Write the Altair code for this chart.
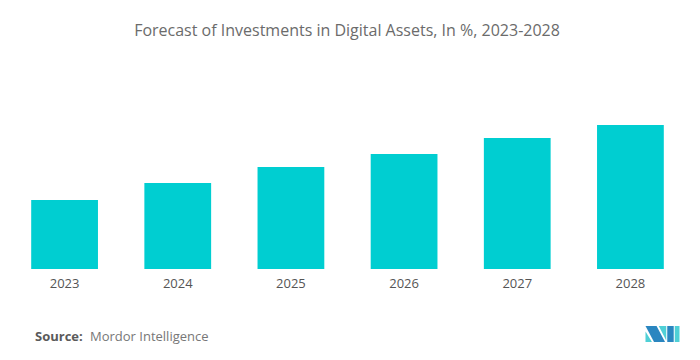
import altair as alt
import pandas as pd

years = ["2023", "2024", "2025", "2026", "2027", "2028"]
values = [69, 86, 102, 115, 131, 144]

title_text = "Forecast of Investments in Digital Assets, In %, 2023-2028"
source_label = "Source:"
source_name = "Mordor Intelligence"

df = pd.DataFrame({"year": years, "value": values})
one = pd.DataFrame({"k": [0]})

W, H = 679, 209
FONT = "Open Sans"

bars = alt.Chart(df).mark_bar(color="#00CED1").encode(
    x=alt.X("year:N", sort=years,
            scale=alt.Scale(paddingInner=0.41, paddingOuter=0.205),
            axis=alt.Axis(title=None, labelAngle=0, ticks=False, domain=False,
                          labelPadding=8, labelFontSize=13, labelColor="#555555",
                          labelFont=FONT, grid=False)),
    y=alt.Y("value:Q", scale=alt.Scale(domain=[0, H], nice=False),
            axis=None),
)

title = alt.Chart(one).mark_text(text=title_text, font=FONT, fontSize=16,
                                 color="#6b6b6b", align="center", baseline="middle").encode(
    x=alt.value(339), y=alt.value(-29))

src1 = alt.Chart(one).mark_text(text=source_label, font=FONT, fontSize=13, fontWeight="bold",
                                color="#5a5a5a", align="left", baseline="middle").encode(
    x=alt.value(27), y=alt.value(277))
src2 = alt.Chart(one).mark_text(text=source_name, font=FONT, fontSize=13,
                                color="#777777", align="left", baseline="middle").encode(
    x=alt.value(82), y=alt.value(277))

logo_parts = [
    ("M -1 -0.47 L -0.35 -0.47 L 0.15 0.47 L -0.5 0.47 Z", "#2a86c0"),
    ("M -1 -0.15 L -0.62 0.47 L -1 0.47 Z", "#4fd0d6"),
    ("M -0.22 -0.47 L 0.22 -0.47 L 0.22 0.38 Z", "#4fd0d6"),
    ("M 0.28 -0.47 L 0.66 -0.47 L 0.66 0.47 L 0.28 0.47 Z", "#2a86c0"),
    ("M 0.72 -0.47 L 1 -0.47 L 1 0.47 L 0.72 0.47 Z", "#4fd0d6"),
]
logo_layers = []
for path, col in logo_parts:
    logo_layers.append(
        alt.Chart(one).mark_point(shape=path, filled=True, color=col, opacity=1,
                                  size=1156, strokeWidth=0).encode(
            x=alt.value(654.5), y=alt.value(274)))

chart = alt.layer(bars, title, src1, src2, *logo_layers).properties(
    width=W, height=H,
    autosize=alt.AutoSizeParams(type="none"),
    padding={"left": 0, "top": 52, "right": 5, "bottom": 83},
).configure_view(stroke=None)

chart.save("out.html", embed_options={"renderer": "svg", "actions": False})
